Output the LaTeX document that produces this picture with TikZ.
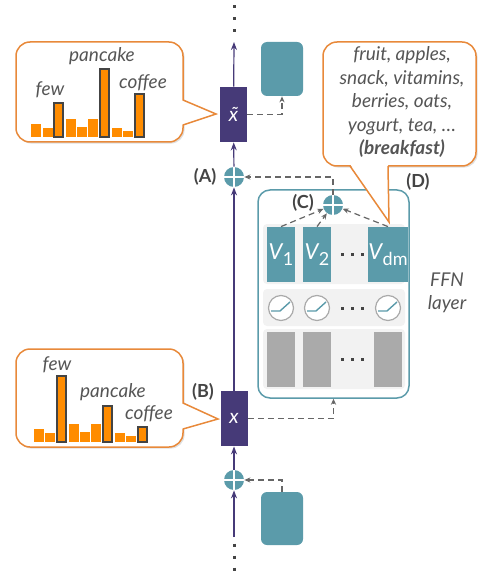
\documentclass[tikz,border=0pt]{standalone}
\usepackage{fontspec}
\setmainfont{Lato}
\usepackage{tikz}
\usepackage{xcolor}
\usetikzlibrary{positioning,arrows.meta,shadows}

\definecolor{navy}{HTML}{463A78}
\definecolor{tealblk}{HTML}{5B9BAA}
\definecolor{bubor}{HTML}{E8893A}
\definecolor{baror}{HTML}{FF8C00}
\definecolor{txtgray}{HTML}{555555}
\definecolor{lblgray}{HTML}{444444}
\definecolor{panelgray}{HTML}{F2F2F2}
\definecolor{keygray}{HTML}{AAAAAA}
\definecolor{dashgray}{HTML}{666666}

\newcommand{\vsub}[1]{\textit{V}\kern-0.3pt\raisebox{-0.5ex}{\fontsize{9}{10}\selectfont #1}}

\begin{document}
\begin{tikzpicture}[x=0.5pt, y=-0.5pt,
  flow/.style={navy, line width=0.6pt, -{Stealth[length=4pt,width=3pt]}},
  skip/.style={dashgray, line width=0.6pt, dash pattern=on 3pt off 2pt, -{Stealth[length=3pt,width=2.6pt]}},
  ellip/.style={lblgray, line width=1.5pt, dash pattern=on 1.5pt off 4.5pt},
  tok/.style={fill=navy, minimum width=13.5pt, minimum height=27.5pt, inner sep=0pt, text=white, font=\fontsize{10}{12}\selectfont\itshape},
  plus/.style={circle, fill=tealblk, minimum size=10pt, inner sep=0pt, path picture={\draw[white, line width=0.7pt] (path picture bounding box.north) -- (path picture bounding box.south) (path picture bounding box.west) -- (path picture bounding box.east);}},
  emb/.style={fill=tealblk, rounded corners=3pt, minimum width=21pt, minimum height=27pt, inner sep=0pt},
  val/.style={fill=tealblk, minimum width=14pt, minimum height=27.5pt, inner sep=0pt, text=white, font=\fontsize{11}{12}\selectfont},
  key/.style={fill=keygray, minimum width=14pt, minimum height=27.5pt, inner sep=0pt},
  panel/.style={fill=panelgray, rounded corners=2pt, minimum width=71pt, inner sep=0pt},
  act/.style={circle, draw=keygray, fill=white, line width=0.6pt, minimum size=12.5pt, inner sep=0pt},
  relu/.style={tealblk, line width=0.7pt},
  bubble/.style={draw=bubor, fill=white, line width=0.75pt, rounded corners=7pt, inner sep=0pt, drop shadow={shadow xshift=0.8pt, shadow yshift=-0.8pt, opacity=0.25}},
  word/.style={text=txtgray, font=\fontsize{9.5}{11.75}\selectfont\itshape},
  tag/.style={text=lblgray, font=\fontsize{9}{11}\selectfont\bfseries},
  bar/.style={fill=baror},
  hot/.style={fill=baror, draw=lblgray, line width=0.6pt},
]
\useasboundingbox (0,0) rectangle (477,572);

\node[tok] (xt) at (233.5,114.5) {\~{x}};
\node[tok] (x) at (234,418.5) {x};
\node[plus] (plA) at (234,177) {};
\node[plus] (plB) at (234,480) {};
\node[emb] (embT) at (282,69) {};
\node[emb, minimum height=26.5pt] (embB) at (282,518.5) {};

\coordinate (outT) at (234,42);
\coordinate (inB) at (234,537);
\coordinate (dotsT) at (234,5.5);
\coordinate (dotsB) at (234,543.5);

\node[tag] (labA) at (205,177) {(A)};
\node[tag] (labB) at (203,392) {(B)};

% FFN block
\node[draw=tealblk, fill=white, rounded corners=6pt, line width=0.75pt, minimum width=75.5pt, minimum height=104pt] (ffn) at (333.5,294) {};
\node[panel, minimum height=30pt] (rowV) at (334,254) {};
\node[panel, minimum height=18.5pt] (rowA) at (334,307.5) {};
\node[panel, minimum height=30pt] (rowK) at (334,359) {};

\node[val] (v1) at (281,254.5) {\vsub{1}};
\node[val] (v2) at (317,254.5) {\vsub{2}};
\node[val] (vd) at (388,254.5) {\vsub{dm}};
\node[act] (a1) at (281,308) {};
\node[act] (a2) at (317,308) {};
\node[act] (a3) at (388,308) {};
\node[key] (k1) at (281,359.5) {};
\node[key] (k2) at (317,359.5) {};
\node[key] (k3) at (388,359.5) {};
\foreach \a in {a1,a2,a3}
  \draw[relu] (\a) ++(-10,3) -- ++(9,0) -- ++(10,-9);
\foreach \y in {254,308,359}
  \foreach \d in {-10,0,10}
    \fill[lblgray] (352+\d-1.5,\y-1.5) rectangle ++(3,3);

\node[plus] (plC) at (333,205) {};
\node[tag] (labC) at (303,203) {(C)};
\node[tag] (labD) at (418,182) {(D)};
\node[word, align=center] (ffnLab) at (447,293) {FFN\\layer};

% connectors
\draw[ellip] (dotsT) -- ++(0,28);
\draw[ellip] (dotsB) -- ++(0,28);
\draw[flow] (xt) -- (outT);
\draw[flow] (plA) -- (xt);
\draw[flow] (x) -- (plA);
\draw[flow] (plB) -- (x);
\draw[flow] (inB) -- (plB);

\draw[skip] (xt.east) -| (embT.south);
\draw[skip] (plC.north) |- (plA.east);
\draw[skip] (x.east) -| (ffn.south);
\draw[skip] (embB.north) |- (plB.east);
\draw[skip] (v1.north) -- (plC);
\draw[skip] (v2.north) -- (plC);
\draw[skip] (vd.north) -- (plC);

% callout after the FFN layer
\node[bubble, minimum width=83.5pt, minimum height=50pt] (bubT) at (99.5,92) {};
\fill[white] (181,100) -- (216,114) -- (181,125) -- cycle;
\draw[bubor, line width=0.75pt] (183,100) -- (216,114) -- (183,125);
\foreach \l/\t in {31/124, 43/128, 66/119, 77/127, 88/119, 112/128, 123/131}
  \fill[bar] (\l,137) rectangle ({\l+10},\t);
\foreach \l/\t in {54/103, 100/69, 135/94}
  \filldraw[hot] (\l,137) rectangle ({\l+9},\t);
\node[word] (fewT) at (50,90) {few};
\node[word] (panT) at (102,56) {pancake};
\node[word] (cofT) at (143,83) {coffee};

% callout before the FFN layer
\node[bubble, minimum width=83.5pt, minimum height=49pt] (bubB) at (99.5,398) {};
\fill[white] (181,403) -- (218,419) -- (181,429) -- cycle;
\draw[bubor, line width=0.75pt] (183,403) -- (218,419) -- (183,429);
\foreach \l/\t in {34/429, 45/433, 69/424, 80/432, 91/424, 115/433, 126/436}
  \fill[bar] (\l,442) rectangle ({\l+10},\t);
\foreach \l/\t in {57/376, 103/406, 138/427}
  \filldraw[hot] (\l,442) rectangle ({\l+9},\t);
\node[word] (fewB) at (57,365) {few};
\node[word] (panB) at (113,392) {pancake};
\node[word] (cofB) at (149,414) {coffee};

% callout of the values
\node[bubble, minimum width=76.5pt, minimum height=62pt] (bubV) at (399.5,104) {};
\fill[white] (350,164) -- (389,222) -- (388,164) -- cycle;
\draw[bubor, line width=0.75pt] (350,166) -- (389,222) -- (388,166);
\node[word, align=center] (topVals) at (402,102) {fruit, apples,\\snack, vitamins,\\berries, oats,\\yogurt, tea, \dots\\\textbf{(breakfast)}};
\end{tikzpicture}
\end{document}
